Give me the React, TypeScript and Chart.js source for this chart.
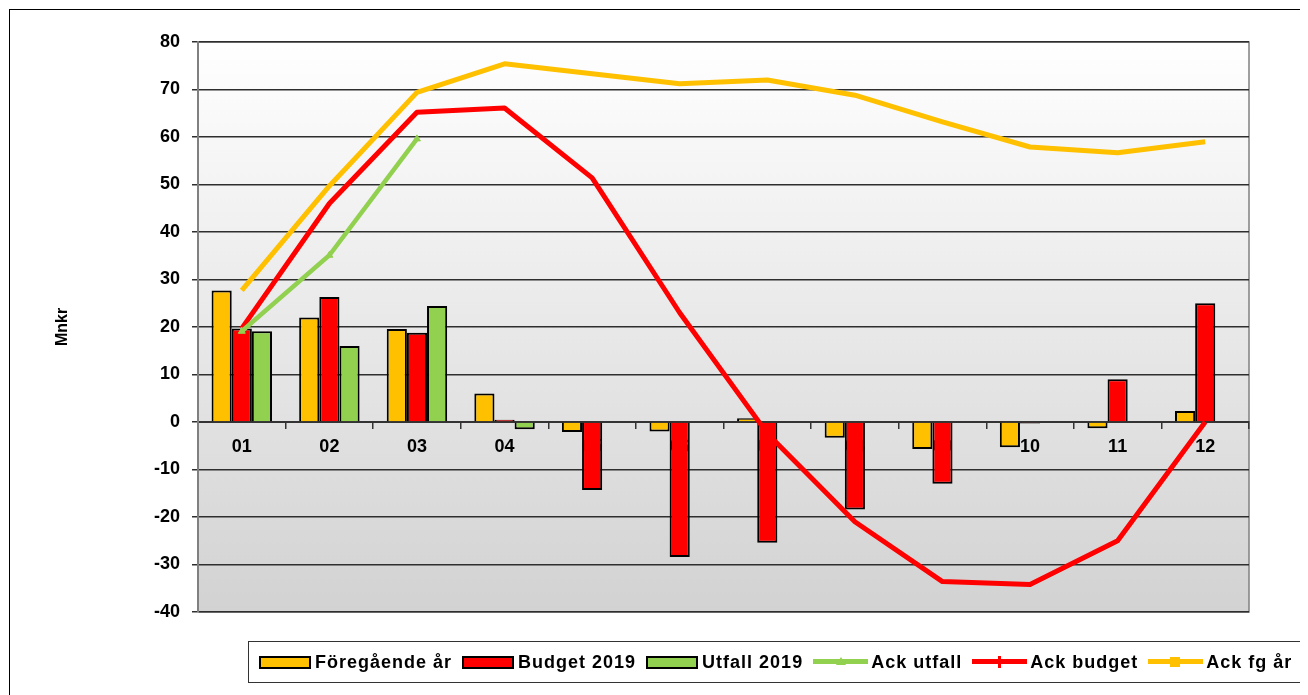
import React, { useEffect, useRef } from "react";
import { Chart, registerables } from "chart.js";

Chart.register(...registerables);

const months = ["01", "02", "03", "04", "05", "06", "07", "08", "09", "10", "11", "12"];
const foregaendeAr = [27.7, 22.0, 19.6, 6.0, -2.1, -2.0, 0.8, -3.3, -5.7, -5.3, -1.3, 2.3];
const budget2019 = [19.7, 26.3, 18.8, 0.5, -14.3, -28.4, -25.4, -18.4, -13.0, -0.3, 9.0, 25.0];
const utfall2019 = [19.1, 16.0, 24.4, -1.5, null, null, null, null, null, null, null, null];
const ackUtfall = [19.1, 35.1, 59.6, null, null, null, null, null, null, null, null, null];
const ackBudget = [19.7, 46.0, 65.2, 66.1, 51.4, 23.0, -2.4, -21.0, -33.6, -34.2, -25.0, 0.0];
const ackFgAr = [27.7, 49.7, 69.4, 75.4, 73.3, 71.2, 72.0, 68.8, 63.2, 57.9, 56.7, 59.0];

const ORANGE = "#FFC000";
const RED = "#FF0000";
const GREEN = "#92D050";
const FONT = "'Liberation Sans', Arial, sans-serif";

const bgPlugin = {
  id: "plotBg",
  beforeDraw(chart: any) {
    const { ctx, chartArea } = chart;
    if (!chartArea) return;
    const { left, top, right, bottom } = chartArea;
    const g = ctx.createLinearGradient(0, top, 0, bottom);
    g.addColorStop(0, "#ffffff");
    g.addColorStop(1, "#d2d2d2");
    ctx.save();
    ctx.fillStyle = g;
    ctx.fillRect(left, top, right - left, bottom - top);
    ctx.strokeStyle = "#808080";
    ctx.lineWidth = 1.5;
    ctx.strokeRect(left, top, right - left, bottom - top);
    ctx.restore();
  },
};

const legendItems = [
  { label: "Föregående år", kind: "bar", color: ORANGE },
  { label: "Budget 2019", kind: "bar", color: RED },
  { label: "Utfall 2019", kind: "bar", color: GREEN },
  { label: "Ack utfall", kind: "line", color: GREEN, marker: "triangle" },
  { label: "Ack budget", kind: "line", color: RED, marker: "dash" },
  { label: "Ack fg år", kind: "line", color: ORANGE, marker: "square" },
];

function LegendSwatch({ item }: { item: any }) {
  if (item.kind === "bar") {
    return (
      <span
        style={{
          display: "inline-block",
          width: 48,
          height: 9,
          background: item.color,
          border: "2px solid #000",
          marginRight: 4,
        }}
      />
    );
  }
  let marker: any = null;
  if (item.marker === "square") {
    marker = (
      <span style={{ position: "absolute", left: 22, top: -1, width: 10, height: 10, background: item.color }} />
    );
  } else if (item.marker === "triangle") {
    marker = (
      <span
        style={{
          position: "absolute",
          left: 23,
          top: -1,
          width: 0,
          height: 0,
          borderLeft: "5px solid transparent",
          borderRight: "5px solid transparent",
          borderBottom: "8px solid " + item.color,
        }}
      />
    );
  } else if (item.marker === "dash") {
    marker = <span style={{ position: "absolute", left: 26, top: -2, width: 3, height: 12, background: item.color }} />;
  }
  return (
    <span style={{ position: "relative", display: "inline-block", width: 55, height: 8, marginRight: 3 }}>
      <span style={{ position: "absolute", left: 0, top: 1, width: 55, height: 5, background: item.color }} />
      {marker}
    </span>
  );
}

export default function App() {
  const canvasRef = useRef<HTMLCanvasElement | null>(null);

  useEffect(() => {
    document.body.style.overflow = "hidden";
    const canvas = canvasRef.current;
    if (!canvas) return;
    const chart = new Chart(canvas, {
      type: "bar",
      data: {
        labels: months,
        datasets: [
          {
            type: "line",
            label: "Ack utfall",
            data: ackUtfall,
            borderColor: GREEN,
            backgroundColor: GREEN,
            borderWidth: 4.5,
            pointStyle: "triangle",
            pointRadius: 4,
            pointBorderWidth: 1,
            tension: 0,
            order: 0,
            spanGaps: false,
          } as any,
          {
            type: "line",
            label: "Ack budget",
            data: ackBudget,
            borderColor: RED,
            backgroundColor: RED,
            borderWidth: 5,
            pointRadius: 0,
            tension: 0,
            borderJoinStyle: "round",
            order: 1,
          } as any,
          {
            type: "line",
            label: "Ack fg år",
            data: ackFgAr,
            borderColor: ORANGE,
            backgroundColor: ORANGE,
            borderWidth: 5,
            pointRadius: 0,
            tension: 0,
            borderJoinStyle: "round",
            order: 2,
          } as any,
          {
            type: "bar",
            label: "Föregående år",
            data: foregaendeAr,
            backgroundColor: ORANGE,
            borderColor: "#000",
            borderWidth: 2,
            order: 3,
          },
          {
            type: "bar",
            label: "Budget 2019",
            data: budget2019,
            backgroundColor: RED,
            borderColor: "#000",
            borderWidth: 2,
            order: 4,
          },
          {
            type: "bar",
            label: "Utfall 2019",
            data: utfall2019 as any,
            backgroundColor: GREEN,
            borderColor: "#000",
            borderWidth: 2,
            order: 5,
          },
        ],
      },
      options: {
        animation: false,
        responsive: false,
        maintainAspectRatio: false,
        datasets: {
          bar: { categoryPercentage: 0.69, barPercentage: 1.0, grouped: true },
        } as any,
        layout: { padding: { left: 0, top: 34, right: 59, bottom: 83 } },
        plugins: {
          legend: { display: false },
          tooltip: { enabled: false },
        },
        scales: {
          x: {
            type: "category",
            position: { y: 0 } as any,
            offset: true,
            grid: {
              display: true,
              drawOnChartArea: false,
              drawTicks: true,
              tickLength: 6,
              color: "#333333",
              lineWidth: 1.5,
              offset: true,
            },
            border: { display: true, color: "#333333", width: 2 },
            ticks: {
              color: "#000",
              font: { family: FONT, size: 18, weight: "bold" },
              padding: 8,
              maxRotation: 0,
              autoSkip: false,
            },
          },
          y: {
            min: -40,
            max: 80,
            position: "left",
            afterFit(scale: any) {
              scale.width = 190;
            },
            grid: {
              color: "#2e2e2e",
              lineWidth: 1.5,
              tickLength: 6,
              drawTicks: true,
            },
            border: { display: true, color: "#808080", width: 2 },
            ticks: {
              stepSize: 10,
              color: "#000",
              padding: 12,
              font: { family: FONT, size: 18, weight: "bold" },
            },
            title: {
              display: true,
              text: "Mnkr",
              color: "#000",
              font: { family: FONT, size: 16, weight: "bold" },
              padding: { top: 45, bottom: 0 },
            },
          },
        },
      },
      plugins: [bgPlugin],
    });
    return () => chart.destroy();
  }, []);

  return (
    <div style={{ position: "relative", width: 1300, height: 687 }}>
      <div
        style={{
          position: "absolute",
          left: 1,
          top: 1,
          width: 1299,
          height: 686,
          borderTop: "1px solid #000",
          borderLeft: "1px solid #000",
          boxSizing: "border-box",
        }}
      />
      <canvas
        ref={canvasRef}
        width={1300}
        height={687}
        style={{ position: "absolute", left: 0, top: 0, width: 1300, height: 687 }}
      />
      <div
        style={{
          position: "absolute",
          left: 240,
          top: 633,
          width: 1070,
          height: 42,
          border: "1px solid #333",
          boxSizing: "border-box",
          display: "flex",
          alignItems: "center",
          paddingLeft: 10,
          whiteSpace: "nowrap",
          overflow: "hidden",
          fontFamily: FONT,
          fontWeight: "bold",
          fontSize: 18,
          color: "#000",
        }}
      >
        {legendItems.map((it) => (
          <span key={it.label} style={{ display: "inline-flex", alignItems: "center", marginRight: 10 }}>
            <LegendSwatch item={it} />
            <span style={{ letterSpacing: 1.0 }}>{it.label}</span>
          </span>
        ))}
      </div>
    </div>
  );
}
